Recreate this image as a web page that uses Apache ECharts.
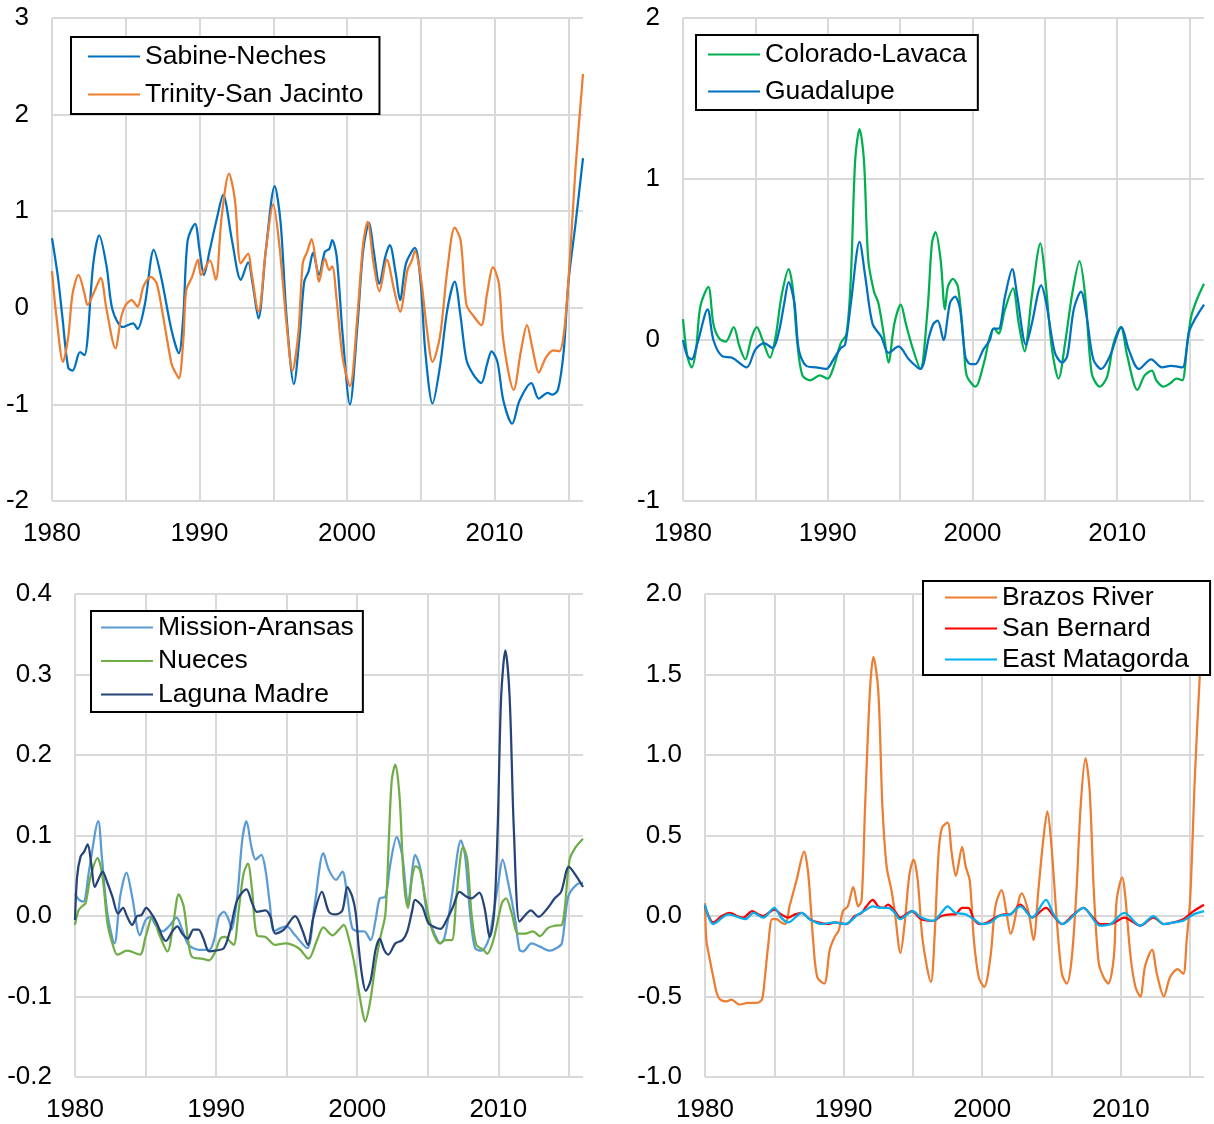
<!DOCTYPE html>
<html>
<head>
<meta charset="utf-8">
<script src="https://cdn.jsdelivr.net/npm/echarts@6/dist/echarts.min.js"></script>
<style>
  html, body { margin: 0; padding: 0; background: #fff; }
  #chart { width: 1214px; height: 1124px; }
</style>
</head>
<body>
<div id="chart"></div>
<script>
// Smoothed anomaly series, [year, value] pairs
const sabineNeches = [[1980.0,0.72],[1980.4,0.32],[1980.7,-0.09],[1981.1,-0.62],[1981.4,-0.65],[1981.9,-0.46],[1982.2,-0.49],[1982.8,0.46],[1983.2,0.75],[1983.7,0.43],[1984.1,-0.02],[1984.8,-0.20],[1985.5,-0.16],[1985.8,-0.22],[1986.3,0.04],[1986.9,0.60],[1987.4,0.32],[1988.1,-0.23],[1988.6,-0.47],[1988.9,-0.09],[1989.2,0.70],[1989.7,0.87],[1990.0,0.60],[1990.3,0.34],[1990.7,0.60],[1991.2,0.94],[1991.6,1.17],[1992.2,0.70],[1992.8,0.29],[1993.3,0.47],[1993.6,0.25],[1994.0,-0.11],[1994.5,0.60],[1995.1,1.26],[1995.5,0.88],[1995.9,-0.09],[1996.4,-0.79],[1996.8,-0.27],[1997.1,0.27],[1997.4,0.38],[1997.7,0.57],[1998.1,0.34],[1998.5,0.58],[1998.8,0.61],[1999.0,0.70],[1999.3,0.53],[1999.7,-0.27],[2000.2,-1.0],[2000.7,-0.20],[2001.1,0.60],[2001.5,0.88],[2001.8,0.60],[2002.2,0.25],[2002.6,0.53],[2002.9,0.65],[2003.3,0.36],[2003.6,0.08],[2004.0,0.46],[2004.6,0.62],[2005.0,0.25],[2005.3,-0.44],[2005.8,-0.99],[2006.3,-0.61],[2006.8,-0.02],[2007.3,0.27],[2007.7,-0.09],[2008.1,-0.54],[2008.6,-0.70],[2009.1,-0.78],[2009.5,-0.58],[2009.8,-0.45],[2010.2,-0.56],[2010.6,-0.96],[2011.2,-1.20],[2011.7,-0.96],[2012.5,-0.78],[2013.0,-0.94],[2013.6,-0.88],[2013.9,-0.90],[2014.3,-0.85],[2014.7,-0.44],[2015.0,0.25],[2015.5,0.88],[2016.0,1.55]];
const trinitySanJacinto = [[1980.0,0.38],[1980.3,-0.09],[1980.75,-0.56],[1981.1,-0.30],[1981.4,0.15],[1981.8,0.34],[1982.2,0.15],[1982.4,0.03],[1982.9,0.18],[1983.3,0.31],[1983.7,-0.02],[1984.3,-0.42],[1984.7,-0.09],[1985.0,0.03],[1985.4,0.08],[1985.8,0.01],[1986.2,0.22],[1986.7,0.32],[1987.1,0.25],[1987.5,-0.06],[1988.1,-0.58],[1988.3,-0.65],[1988.6,-0.73],[1988.9,-0.34],[1989.1,0.18],[1989.5,0.32],[1989.9,0.50],[1990.1,0.34],[1990.7,0.49],[1991.1,0.29],[1991.5,0.94],[1992.0,1.39],[1992.4,1.12],[1992.8,0.46],[1993.3,0.56],[1993.5,0.39],[1994.0,-0.04],[1994.5,0.60],[1995.0,1.07],[1995.4,0.67],[1995.9,-0.16],[1996.3,-0.65],[1996.7,-0.27],[1997.0,0.46],[1997.3,0.58],[1997.6,0.71],[1997.9,0.46],[1998.1,0.27],[1998.5,0.51],[1998.8,0.39],[1999.0,0.43],[1999.3,0.08],[1999.7,-0.51],[2000.2,-0.81],[2000.7,-0.09],[2001.1,0.67],[2001.4,0.89],[2001.8,0.46],[2002.2,0.17],[2002.7,0.50],[2003.2,0.18],[2003.6,-0.04],[2004.1,0.39],[2004.4,0.49],[2004.6,0.59],[2005.0,0.32],[2005.4,-0.20],[2005.8,-0.56],[2006.3,-0.30],[2006.8,0.39],[2007.3,0.83],[2007.7,0.70],[2008.1,0.03],[2008.6,-0.09],[2009.1,-0.18],[2009.5,0.15],[2009.9,0.42],[2010.3,0.25],[2010.6,-0.34],[2011.3,-0.85],[2011.8,-0.44],[2012.2,-0.18],[2012.6,-0.44],[2013.0,-0.67],[2013.5,-0.51],[2014.0,-0.44],[2014.4,-0.45],[2014.7,-0.27],[2015.0,0.25],[2015.5,1.46],[2016.0,2.42]];

const coloradoLavaca = [[1980.0,0.13],[1980.3,-0.10],[1980.6,-0.17],[1980.9,-0.06],[1981.2,0.21],[1981.75,0.33],[1982.1,0.10],[1982.5,0.01],[1982.95,-0.01],[1983.5,0.08],[1983.9,-0.04],[1984.3,-0.12],[1984.75,0.02],[1985.1,0.08],[1985.5,0.00],[1986.0,-0.11],[1986.4,0.02],[1986.8,0.27],[1987.3,0.44],[1987.6,0.31],[1987.9,-0.02],[1988.25,-0.22],[1988.8,-0.25],[1989.45,-0.22],[1990.0,-0.24],[1990.4,-0.17],[1990.9,-0.02],[1991.3,0.04],[1991.6,0.39],[1991.9,1.12],[1992.2,1.31],[1992.5,1.12],[1992.8,0.50],[1993.2,0.30],[1993.5,0.23],[1993.9,0.02],[1994.2,-0.14],[1994.6,0.10],[1995.05,0.22],[1995.4,0.10],[1995.9,-0.06],[1996.4,-0.18],[1996.9,0.19],[1997.2,0.60],[1997.45,0.67],[1997.8,0.50],[1998.1,0.19],[1998.3,0.33],[1998.65,0.38],[1999.0,0.33],[1999.4,-0.02],[1999.6,-0.22],[2000.2,-0.29],[2000.8,-0.14],[2001.2,0.02],[2001.5,0.07],[2001.8,0.04],[2002.25,0.19],[2002.8,0.32],[2003.2,0.10],[2003.6,-0.07],[2004.1,0.27],[2004.7,0.60],[2005.0,0.41],[2005.5,-0.06],[2005.95,-0.24],[2006.4,-0.02],[2006.9,0.29],[2007.4,0.49],[2007.8,0.27],[2008.25,-0.21],[2008.8,-0.29],[2009.3,-0.23],[2009.75,-0.02],[2010.25,0.08],[2010.7,-0.10],[2011.4,-0.31],[2011.9,-0.22],[2012.4,-0.19],[2012.7,-0.25],[2013.2,-0.29],[2013.65,-0.27],[2014.1,-0.24],[2014.5,-0.25],[2014.8,-0.06],[2015.1,0.14],[2015.5,0.25],[2016.0,0.35]];
const guadalupe = [[1980.0,0.00],[1980.3,-0.10],[1980.6,-0.12],[1981.0,-0.02],[1981.7,0.19],[1982.1,0.00],[1982.7,-0.10],[1983.4,-0.11],[1984.4,-0.17],[1985.0,-0.06],[1985.6,-0.02],[1986.2,-0.05],[1986.6,0.04],[1987.0,0.23],[1987.3,0.36],[1987.7,0.23],[1988.0,-0.06],[1988.5,-0.16],[1989.2,-0.17],[1989.9,-0.18],[1990.4,-0.12],[1990.9,-0.05],[1991.2,-0.03],[1991.6,0.23],[1992.2,0.61],[1992.6,0.39],[1993.1,0.10],[1993.7,0.02],[1994.2,-0.08],[1994.9,-0.04],[1995.6,-0.12],[1996.4,-0.18],[1997.0,0.02],[1997.3,0.10],[1997.6,0.12],[1998.0,0.00],[1998.45,0.23],[1998.8,0.27],[1999.15,0.19],[1999.5,-0.10],[1999.85,-0.15],[2000.2,-0.15],[2000.75,-0.06],[2001.2,0.00],[2001.45,0.07],[2001.8,0.07],[2002.25,0.27],[2002.75,0.44],[2003.1,0.27],[2003.7,-0.03],[2004.1,0.10],[2004.75,0.34],[2005.1,0.23],[2005.7,-0.08],[2006.2,-0.14],[2006.55,-0.10],[2007.0,0.19],[2007.5,0.30],[2007.9,0.14],[2008.35,-0.12],[2008.9,-0.18],[2009.5,-0.10],[2010.3,0.08],[2010.8,-0.06],[2011.5,-0.18],[2012.35,-0.12],[2013.1,-0.17],[2013.7,-0.16],[2014.5,-0.17],[2015.0,0.06],[2016.0,0.22]];

const missionAransas = [[1980.0,0.028],[1980.3,0.020],[1980.6,0.018],[1981.0,0.057],[1981.65,0.118],[1981.9,0.074],[1982.3,0.003],[1982.8,-0.034],[1983.2,0.024],[1983.65,0.054],[1984.05,0.024],[1984.6,-0.024],[1985.0,-0.005],[1985.35,-0.001],[1985.7,-0.011],[1986.2,-0.019],[1986.65,-0.013],[1987.2,-0.002],[1987.6,-0.017],[1988.05,-0.036],[1988.8,-0.042],[1989.5,-0.042],[1989.85,-0.030],[1990.2,-0.001],[1990.55,0.005],[1990.9,-0.005],[1991.1,-0.017],[1991.5,0.024],[1991.85,0.094],[1992.15,0.118],[1992.5,0.086],[1992.8,0.070],[1993.2,0.076],[1993.5,0.057],[1993.8,0.016],[1994.1,-0.019],[1994.55,-0.015],[1995.0,-0.013],[1995.6,-0.024],[1996.45,-0.040],[1997.0,0.016],[1997.6,0.078],[1998.0,0.057],[1998.5,0.045],[1998.95,0.055],[1999.3,0.024],[1999.65,-0.015],[2000.1,-0.019],[2000.5,-0.019],[2000.95,-0.030],[2001.3,-0.005],[2001.6,0.022],[2002.0,0.024],[2002.35,0.065],[2002.8,0.098],[2003.2,0.074],[2003.6,0.014],[2003.9,0.057],[2004.1,0.076],[2004.5,0.057],[2004.95,0.003],[2005.4,-0.019],[2005.9,-0.034],[2006.2,-0.026],[2006.7,0.024],[2007.35,0.094],[2007.65,0.074],[2008.0,0.003],[2008.35,-0.040],[2008.8,-0.043],[2009.3,-0.030],[2009.65,0.003],[2010.0,0.041],[2010.3,0.070],[2010.7,0.041],[2011.2,-0.005],[2011.5,-0.042],[2011.75,-0.044],[2012.35,-0.034],[2012.95,-0.038],[2013.65,-0.043],[2014.1,-0.040],[2014.5,-0.034],[2014.95,0.024],[2015.55,0.039],[2016.0,0.041]];
const nueces = [[1980.0,-0.011],[1980.25,0.007],[1980.5,0.012],[1980.75,0.016],[1981.1,0.049],[1981.6,0.072],[1981.95,0.049],[1982.3,-0.009],[1982.65,-0.034],[1983.0,-0.048],[1983.7,-0.043],[1984.6,-0.048],[1985.0,-0.026],[1985.5,0.000],[1985.95,-0.022],[1986.55,-0.044],[1987.0,-0.005],[1987.35,0.027],[1987.7,0.012],[1988.05,-0.034],[1988.3,-0.051],[1989.0,-0.053],[1989.5,-0.055],[1989.95,-0.044],[1990.3,-0.028],[1990.65,-0.026],[1991.0,-0.032],[1991.25,-0.036],[1991.6,0.007],[1991.95,0.053],[1992.25,0.065],[1992.55,0.032],[1992.9,-0.024],[1993.5,-0.026],[1994.2,-0.036],[1994.9,-0.034],[1995.85,-0.040],[1996.55,-0.053],[1997.15,-0.030],[1997.6,-0.014],[1998.25,-0.024],[1998.7,-0.017],[1999.05,-0.011],[1999.4,-0.028],[1999.75,-0.055],[2000.1,-0.092],[2000.35,-0.117],[2000.55,-0.131],[2000.9,-0.108],[2001.3,-0.059],[2001.65,-0.026],[2002.0,0.003],[2002.25,0.099],[2002.45,0.169],[2002.7,0.188],[2003.0,0.148],[2003.3,0.045],[2003.6,0.010],[2003.9,0.049],[2004.15,0.062],[2004.45,0.057],[2004.8,0.024],[2005.3,-0.017],[2005.85,-0.034],[2006.25,-0.030],[2006.7,-0.030],[2007.05,0.028],[2007.5,0.086],[2007.8,0.070],[2008.1,0.003],[2008.45,-0.036],[2008.95,-0.042],[2009.2,-0.047],[2009.65,-0.030],[2010.25,0.016],[2010.55,0.022],[2010.95,0.003],[2011.4,-0.022],[2011.9,-0.022],[2012.45,-0.019],[2012.95,-0.025],[2013.5,-0.015],[2014.0,-0.012],[2014.5,-0.011],[2015.05,0.070],[2015.5,0.086],[2016.0,0.096]];
const lagunaMadre = [[1980.0,-0.005],[1980.15,0.049],[1980.4,0.074],[1980.65,0.080],[1980.9,0.089],[1981.15,0.065],[1981.4,0.036],[1981.7,0.047],[1981.95,0.055],[1982.3,0.041],[1982.65,0.024],[1983.05,0.003],[1983.4,0.010],[1983.7,-0.001],[1984.05,-0.011],[1984.4,0.000],[1984.7,0.001],[1985.05,0.010],[1985.45,0.002],[1985.8,-0.009],[1986.2,-0.026],[1986.45,-0.031],[1986.9,-0.019],[1987.25,-0.013],[1987.6,-0.022],[1988.0,-0.028],[1988.4,-0.017],[1988.75,-0.017],[1989.1,-0.028],[1989.5,-0.044],[1989.95,-0.043],[1990.55,-0.040],[1991.0,-0.017],[1991.5,0.020],[1992.15,0.033],[1992.55,0.016],[1992.9,0.005],[1993.5,0.007],[1993.85,-0.001],[1994.2,-0.022],[1994.8,-0.017],[1995.6,0.000],[1996.1,-0.017],[1996.5,-0.036],[1996.9,-0.001],[1997.5,0.030],[1998.0,0.005],[1998.5,0.002],[1998.95,0.007],[1999.3,0.036],[1999.65,0.024],[1999.9,0.003],[2000.1,-0.038],[2000.35,-0.075],[2000.6,-0.093],[2000.95,-0.080],[2001.3,-0.042],[2001.6,-0.028],[2001.9,-0.042],[2002.2,-0.048],[2002.7,-0.034],[2003.2,-0.030],[2003.55,-0.019],[2003.9,0.007],[2004.1,0.020],[2004.6,0.012],[2005.05,-0.009],[2005.5,-0.014],[2005.9,-0.016],[2006.45,-0.001],[2006.8,0.012],[2007.25,0.030],[2007.75,0.024],[2008.1,0.022],[2008.65,0.029],[2009.0,0.012],[2009.4,-0.026],[2009.7,0.003],[2009.95,0.107],[2010.2,0.272],[2010.5,0.330],[2010.8,0.272],[2011.1,0.107],[2011.5,-0.007],[2011.9,0.001],[2012.3,0.007],[2012.85,-0.001],[2013.5,0.010],[2014.0,0.022],[2014.45,0.030],[2015.0,0.061],[2015.55,0.049],[2016.0,0.036]];

const brazosRiver = [[1980.0,0.08],[1980.1,-0.15],[1980.3,-0.25],[1980.6,-0.38],[1980.85,-0.48],[1981.1,-0.52],[1981.55,-0.53],[1981.9,-0.52],[1982.5,-0.55],[1983.1,-0.54],[1983.7,-0.54],[1984.1,-0.52],[1984.3,-0.40],[1984.55,-0.19],[1984.85,-0.02],[1985.15,-0.02],[1985.5,-0.04],[1985.8,-0.05],[1986.1,0.06],[1986.6,0.22],[1987.15,0.40],[1987.45,0.26],[1987.8,-0.15],[1988.1,-0.38],[1988.6,-0.42],[1989.0,-0.21],[1989.35,-0.13],[1989.65,-0.09],[1989.95,0.03],[1990.3,0.06],[1990.7,0.18],[1991.05,0.06],[1991.3,0.10],[1991.55,0.68],[1991.9,1.40],[1992.15,1.61],[1992.5,1.40],[1992.8,0.68],[1993.1,0.31],[1993.45,0.16],[1993.7,0.02],[1994.1,-0.23],[1994.4,-0.05],[1994.75,0.26],[1995.05,0.35],[1995.35,0.22],[1995.7,-0.15],[1996.3,-0.41],[1996.55,-0.15],[1996.85,0.39],[1997.1,0.55],[1997.5,0.58],[1997.8,0.39],[1998.1,0.25],[1998.55,0.43],[1998.8,0.31],[1999.1,0.22],[1999.4,-0.15],[1999.75,-0.38],[2000.15,-0.44],[2000.6,-0.25],[2000.95,0.06],[2001.4,0.16],[2001.75,0.02],[2002.05,-0.11],[2002.85,0.14],[2003.35,0.02],[2003.7,-0.15],[2004.05,0.16],[2004.4,0.47],[2004.7,0.65],[2005.0,0.43],[2005.4,-0.05],[2005.75,-0.36],[2006.1,-0.42],[2006.45,-0.27],[2006.8,0.16],[2007.1,0.68],[2007.45,0.98],[2007.75,0.78],[2008.05,0.16],[2008.4,-0.29],[2008.75,-0.38],[2009.1,-0.42],[2009.5,-0.25],[2009.7,0.10],[2010.1,0.24],[2010.3,0.14],[2010.7,-0.25],[2011.05,-0.44],[2011.4,-0.50],[2011.75,-0.31],[2012.25,-0.21],[2012.6,-0.36],[2013.1,-0.50],[2013.55,-0.38],[2014.1,-0.33],[2014.5,-0.36],[2014.75,-0.15],[2015.0,0.10],[2015.35,0.88],[2015.7,1.50],[2016.0,1.95]];
const sanBernard = [[1980.0,0.06],[1980.6,-0.04],[1981.2,0.00],[1981.8,0.02],[1982.3,0.00],[1982.75,-0.01],[1983.4,0.03],[1983.85,0.01],[1984.2,0.00],[1985.0,0.04],[1985.5,0.01],[1986.0,-0.01],[1986.5,0.01],[1986.95,0.02],[1987.55,-0.02],[1988.15,-0.04],[1988.9,-0.05],[1989.35,-0.04],[1990.2,-0.05],[1990.8,0.00],[1991.3,0.02],[1991.65,0.06],[1992.1,0.10],[1992.5,0.06],[1992.85,0.05],[1993.2,0.07],[1993.7,0.03],[1994.1,-0.01],[1994.9,0.03],[1995.6,-0.02],[1996.45,-0.03],[1997.05,0.00],[1997.75,0.01],[1998.05,0.01],[1998.55,0.05],[1999.0,0.05],[1999.4,-0.02],[1999.85,-0.05],[2000.35,-0.04],[2000.95,-0.01],[2001.55,0.01],[2002.0,0.01],[2002.75,0.07],[2003.2,0.03],[2003.6,-0.01],[2004.6,0.05],[2005.15,0.00],[2005.75,-0.05],[2006.6,0.01],[2007.3,0.05],[2007.9,0.00],[2008.5,-0.05],[2009.25,-0.05],[2010.25,-0.01],[2011.4,-0.06],[2012.35,-0.01],[2013.1,-0.05],[2013.8,-0.04],[2014.5,-0.02],[2015.25,0.03],[2016.0,0.07]];
const eastMatagorda = [[1980.0,0.07],[1980.6,-0.05],[1981.7,0.01],[1982.9,-0.02],[1983.5,0.02],[1984.2,-0.01],[1985.0,0.05],[1985.5,-0.01],[1986.0,-0.04],[1987.0,0.02],[1987.55,-0.02],[1988.4,-0.05],[1989.35,-0.04],[1990.1,-0.05],[1991.05,0.01],[1991.65,0.04],[1992.1,0.06],[1992.7,0.05],[1993.2,0.05],[1993.7,0.02],[1994.05,-0.02],[1995.0,0.03],[1995.6,-0.01],[1996.45,-0.03],[1997.05,0.02],[1997.5,0.06],[1998.05,0.02],[1998.8,0.01],[1999.4,-0.02],[2000.0,-0.05],[2000.6,-0.04],[2001.2,0.00],[2002.0,0.01],[2002.75,0.06],[2003.6,-0.01],[2004.6,0.10],[2005.15,0.01],[2005.8,-0.05],[2007.3,0.05],[2008.5,-0.06],[2009.25,-0.05],[2010.25,0.02],[2011.4,-0.06],[2012.35,0.00],[2013.1,-0.05],[2013.8,-0.04],[2014.5,-0.03],[2015.25,0.01],[2016.0,0.03]];

// Axis ranges per panel
const yearMin = 1980, yearMax = 2016, yearStep = 5;
const yRanges = [
  { min: -2, max: 3, interval: 1, digits: 0 },
  { min: -1, max: 2, interval: 1, digits: 0 },
  { min: -0.2, max: 0.4, interval: 0.1, digits: 1 },
  { min: -1, max: 2, interval: 0.5, digits: 1 }
];

const FONT = '"Liberation Sans", Arial, Helvetica, sans-serif';
const GRID_COLOR = '#d9d9d9';

const grids = [
  { left: 52,  top: 18,  width: 531, height: 483 },
  { left: 683, top: 18,  width: 521, height: 483 },
  { left: 75,  top: 594, width: 508, height: 483 },
  { left: 705, top: 594, width: 499, height: 483 }
];

// Vertical grid lines every 5 years; the one at the closing edge stays hidden
const xSplitColors = [];
for (let y = yearMin; y < yearMax; y += yearStep) xSplitColors.push(GRID_COLOR);
xSplitColors.push('rgba(0,0,0,0)');

const xAxes = grids.map((g, i) => ({
  type: 'value', gridIndex: i, min: yearMin, max: yearMax, interval: yearStep,
  axisLine: { show: false }, axisTick: { show: false },
  splitLine: { show: true, lineStyle: { color: xSplitColors, width: 2 } },
  axisLabel: {
    margin: 20, color: '#000', fontSize: 26, fontFamily: FONT,
    formatter: v => (v % 10 === 0 ? String(v) : '')
  }
}));

const yAxes = yRanges.map((r, i) => ({
  type: 'value', gridIndex: i, min: r.min, max: r.max, interval: r.interval,
  axisLine: { show: false }, axisTick: { show: false },
  splitLine: { show: true, lineStyle: { color: GRID_COLOR, width: 2 } },
  axisLabel: {
    margin: 23, color: '#000', fontSize: 26, fontFamily: FONT,
    formatter: v => Number(v).toFixed(r.digits)
  }
}));

function line(name, data, color, idx) {
  return {
    name, type: 'line', data, xAxisIndex: idx, yAxisIndex: idx,
    smooth: 0.3, symbol: 'none', showSymbol: false,
    lineStyle: { color, width: 2.25 }, itemStyle: { color },
    emphasis: { disabled: true }, silent: true
  };
}

const series = [
  line('Sabine-Neches', sabineNeches, '#0070C0', 0),
  line('Trinity-San Jacinto', trinitySanJacinto, '#ED7D31', 0),
  line('Colorado-Lavaca', coloradoLavaca, '#00B050', 1),
  line('Guadalupe', guadalupe, '#0070C0', 1),
  line('Mission-Aransas', missionAransas, '#5B9BD5', 2),
  line('Nueces', nueces, '#70AD47', 2),
  line('Laguna Madre', lagunaMadre, '#264478', 2),
  line('Brazos River', brazosRiver, '#ED7D31', 3),
  line('San Bernard', sanBernard, '#FF0000', 3),
  line('East Matagorda', eastMatagorda, '#00B0F0', 3)
];

// Plain line swatch for the legend keys
const LINE_KEY = 'path://M0 0H52V2.2H0Z';

function legend(names, left, top, padding, gap) {
  return {
    data: names, orient: 'vertical', left, top, padding, itemGap: gap,
    icon: LINE_KEY, itemWidth: 52, itemHeight: 26, selectedMode: false,
    backgroundColor: '#fff', borderColor: '#000', borderWidth: 2,
    textStyle: { color: '#000', fontSize: 26.5, lineHeight: 26, fontFamily: FONT }
  };
}

const option = {
  animation: false,
  backgroundColor: '#fff',
  grid: grids,
  xAxis: xAxes,
  yAxis: yAxes,
  legend: [
    legend(['Sabine-Neches', 'Trinity-San Jacinto'], 71, 37, [6, 16, 6, 17], 11),
    legend(['Colorado-Lavaca', 'Guadalupe'], 696, 35, [6, 11, 5, 12], 10),
    legend(['Mission-Aransas', 'Nueces', 'Laguna Madre'], 91, 611, [3, 9, 4, 10], 6.5),
    legend(['Brazos River', 'San Bernard', 'East Matagorda'], 923, 581, [3, 21, 2, 22], 4)
  ],
  series
};

const chart = echarts.init(document.getElementById('chart'), null, { renderer: 'canvas' });
chart.setOption(option);
</script>
</body>
</html>
